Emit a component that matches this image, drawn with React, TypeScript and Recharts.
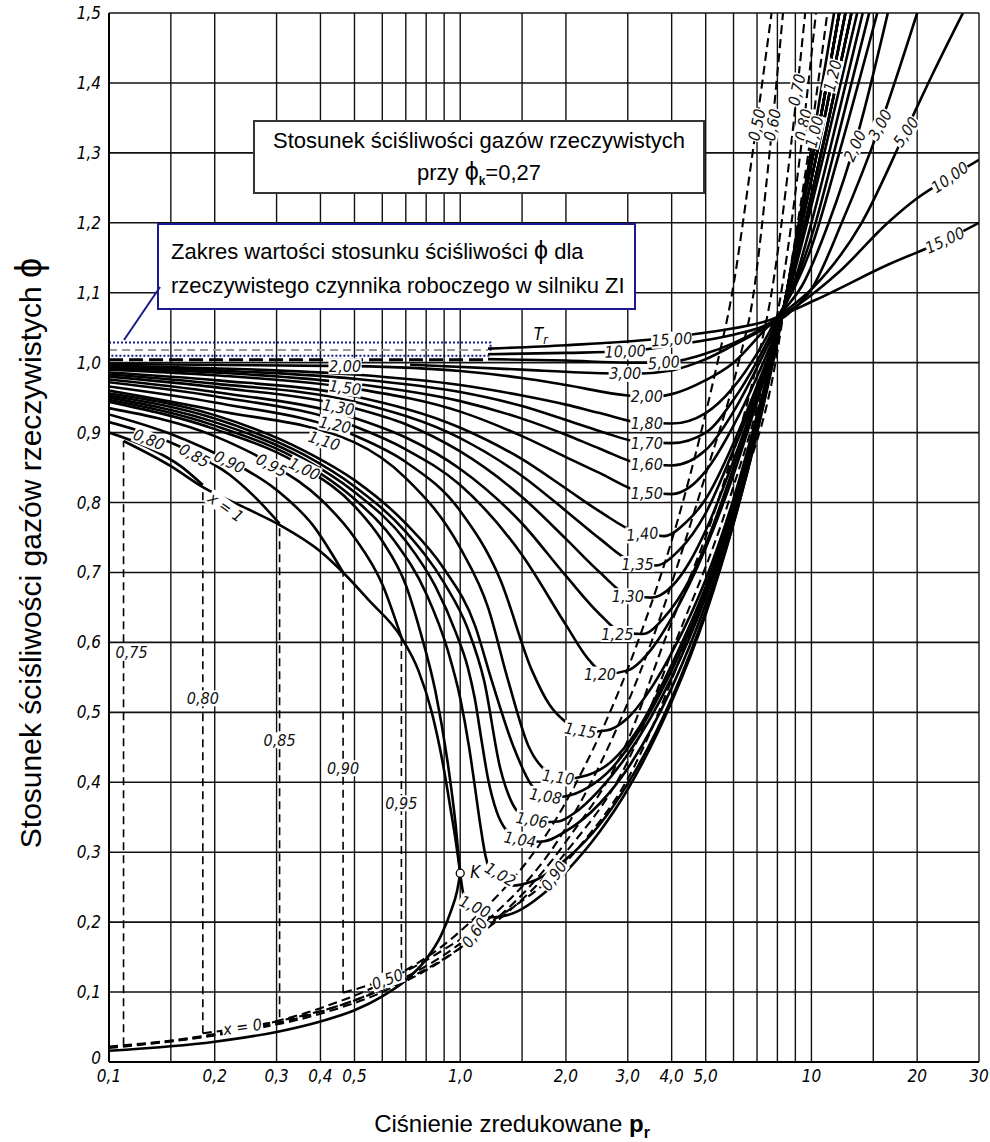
import React from 'react';
import { ComposedChart, Line, Scatter, XAxis, YAxis, ReferenceLine, ReferenceArea } from 'recharts';

// axis ticks and grid
const X_TICKS = [0.1, 0.2, 0.3, 0.4, 0.5, 1, 2, 3, 4, 5, 10, 20, 30];
const X_TICK_LABELS = ['0,1', '0,2', '0,3', '0,4', '0,5', '1,0', '2,0', '3,0', '4,0', '5,0', '10', '20', '30'];
const X_GRID = [0.1, 0.15, 0.2, 0.3, 0.4, 0.5, 0.6, 0.7, 0.8, 0.9, 1, 1.5, 2, 3, 4, 5, 6, 7, 8, 9, 10, 15, 20, 30];
const X_MINOR = [
  0.11, 0.12, 0.13, 0.14, 0.15, 0.16, 0.17, 0.18, 0.19, 0.22, 0.24, 0.26, 0.28, 0.32, 0.34, 0.36, 0.38,
  0.42, 0.44, 0.46, 0.48, 0.55, 0.6, 0.65, 0.7, 0.75, 0.8, 0.85, 0.9, 0.95, 1.2, 1.4, 1.6, 1.8, 2.5,
  3.5, 4.5, 5.5, 6, 6.5, 7, 7.5, 8, 8.5, 9, 9.5, 12, 14, 16, 18, 22, 24, 26, 28,
];
const Y_TICKS = [0, 0.1, 0.2, 0.3, 0.4, 0.5, 0.6, 0.7, 0.8, 0.9, 1.0, 1.1, 1.2, 1.3, 1.4, 1.5];
const Y_TICK_LABELS = ['0', '0,1', '0,2', '0,3', '0,4', '0,5', '0,6', '0,7', '0,8', '0,9', '1,0', '1,1', '1,2', '1,3', '1,4', '1,5'];
const Y_MINOR = [
  0.02, 0.04, 0.06, 0.08, 0.12, 0.14, 0.16, 0.18, 0.22, 0.24, 0.26, 0.28, 0.32, 0.34, 0.36, 0.38,
  0.42, 0.44, 0.46, 0.48, 0.52, 0.54, 0.56, 0.58, 0.62, 0.64, 0.66, 0.68, 0.72, 0.74, 0.76, 0.78,
  0.82, 0.84, 0.86, 0.88, 0.92, 0.94, 0.96, 0.98, 1.02, 1.04, 1.06, 1.08, 1.12, 1.14, 1.16, 1.18,
  1.22, 1.24, 1.26, 1.28, 1.32, 1.34, 1.36, 1.38, 1.42, 1.44, 1.46, 1.48,
];

// isotherms Tr, [pr, phi]
const TR080 = [[0.1, 0.9], [0.13, 0.878], [0.16, 0.852], [0.185, 0.825]];
const TR085 = [[0.1, 0.915], [0.14, 0.892], [0.175, 0.87], [0.22, 0.84], [0.26, 0.808], [0.306, 0.77]];
const TR090 = [[0.1, 0.926], [0.15, 0.898], [0.22, 0.86], [0.3, 0.818], [0.38, 0.768], [0.464, 0.7]];
const TR095 = [[0.1, 0.935], [0.2, 0.895], [0.29, 0.855], [0.4, 0.805], [0.5, 0.75], [0.6, 0.683], [0.68, 0.607]];
const TR100 = [
  [0.1, 0.944], [0.2, 0.905], [0.36, 0.85], [0.5, 0.795], [0.6, 0.745], [0.7, 0.682], [0.77, 0.615], [0.85, 0.53],
  [0.92, 0.43], [0.97, 0.34], [1.0, 0.27], [1.03, 0.232], [1.1, 0.214], [1.25, 0.207], [1.45, 0.215], [1.7, 0.238],
  [2, 0.272], [2.5, 0.33], [3, 0.39], [4, 0.515], [5, 0.64], [6, 0.77], [7, 0.9], [8, 1.03], [8.5, 1.1],
  [9.5, 1.24], [10.5, 1.37], [11.6, 1.5],
];
const TR102 = [
  [0.1, 0.947], [0.2, 0.91], [0.36, 0.856], [0.5, 0.805], [0.65, 0.745], [0.8, 0.67], [0.92, 0.59], [1.0, 0.52],
  [1.06, 0.45], [1.1, 0.395], [1.14, 0.34], [1.18, 0.295], [1.25, 0.265], [1.4, 0.252], [1.6, 0.258], [2, 0.29],
  [2.5, 0.34], [3, 0.398], [4, 0.52], [5, 0.645], [6, 0.77], [7, 0.9], [8, 1.035], [8.5, 1.1], [9.5, 1.23],
  [10.8, 1.37], [12.0, 1.5],
];
const TR104 = [
  [0.1, 0.95], [0.2, 0.915], [0.36, 0.862], [0.5, 0.815], [0.7, 0.745], [0.85, 0.68], [0.97, 0.615], [1.05, 0.565],
  [1.1, 0.52], [1.15, 0.46], [1.2, 0.405], [1.27, 0.358], [1.35, 0.332], [1.5, 0.317], [1.7, 0.315], [2, 0.33],
  [2.5, 0.37], [3, 0.42], [4, 0.535], [5, 0.655], [6, 0.775], [7, 0.905], [8, 1.035], [8.5, 1.1], [9.5, 1.23],
  [10.8, 1.37], [12.0, 1.5],
];
const TR106 = [
  [0.1, 0.953], [0.2, 0.92], [0.36, 0.868], [0.5, 0.823], [0.7, 0.758], [0.9, 0.685], [1.05, 0.62], [1.17, 0.545],
  [1.3, 0.42], [1.4, 0.372], [1.5, 0.352], [1.7, 0.343], [1.9, 0.344], [2.1, 0.355], [2.5, 0.39], [3, 0.44],
  [4, 0.55], [5, 0.665], [6, 0.782], [7, 0.91], [8, 1.035], [8.5, 1.1], [9.5, 1.23], [10.8, 1.37], [12.0, 1.5],
];
const TR108 = [
  [0.1, 0.956], [0.2, 0.925], [0.36, 0.874], [0.5, 0.832], [0.7, 0.77], [0.9, 0.705], [1.1, 0.625], [1.23, 0.545],
  [1.42, 0.45], [1.6, 0.395], [1.8, 0.378], [2.0, 0.38], [2.3, 0.392], [2.7, 0.42], [3.2, 0.47], [4, 0.56],
  [5, 0.672], [6, 0.79], [7, 0.915], [8, 1.035], [8.5, 1.1], [9.5, 1.23], [10.8, 1.37], [12.0, 1.5],
];
const TR110 = [
  [0.1, 0.96], [0.2, 0.932], [0.5, 0.886], [0.7, 0.835], [1.0, 0.735], [1.2, 0.65], [1.37, 0.545], [1.57, 0.45],
  [1.75, 0.417], [2.0, 0.405], [2.3, 0.41], [2.7, 0.43], [3.2, 0.475], [4, 0.568], [5, 0.68], [6, 0.797],
  [7, 0.92], [8, 1.035], [8.5, 1.1], [9.5, 1.23], [10.8, 1.37], [12.0, 1.5],
];
const TR115 = [
  [0.1, 0.966], [0.2, 0.943], [0.5, 0.896], [0.7, 0.858], [1.0, 0.788], [1.3, 0.69], [1.6, 0.56], [1.8, 0.51],
  [2.0, 0.486], [2.3, 0.472], [2.6, 0.474], [3.0, 0.492], [3.5, 0.535], [4, 0.585], [5, 0.69], [6, 0.805],
  [7, 0.925], [8, 1.04], [8.5, 1.095], [9.5, 1.21], [11, 1.36], [12.5, 1.5],
];
const TR120 = [
  [0.1, 0.972], [0.2, 0.952], [0.5, 0.909], [0.7, 0.876], [1.0, 0.825], [1.5, 0.725], [2.0, 0.625], [2.3, 0.578],
  [2.6, 0.555], [3.0, 0.56], [3.5, 0.59], [4, 0.635], [5, 0.735], [6, 0.84], [7, 0.945], [8, 1.04], [8.5, 1.095],
  [9.5, 1.21], [11, 1.36], [12.5, 1.5],
];
const TR125 = [
  [0.1, 0.976], [0.2, 0.958], [0.5, 0.921], [0.7, 0.893], [1.0, 0.848], [1.5, 0.77], [2.0, 0.695], [2.5, 0.64],
  [2.9, 0.614], [3.3, 0.612], [3.8, 0.635], [4.5, 0.69], [5, 0.74], [6, 0.85], [7, 0.95], [8, 1.04], [8.5, 1.095],
  [9.5, 1.21], [11, 1.36], [12.5, 1.5],
];
const TR130 = [
  [0.1, 0.98], [0.2, 0.965], [0.5, 0.935], [0.7, 0.912], [1.0, 0.873], [1.5, 0.808], [2.0, 0.748], [2.5, 0.7],
  [3.0, 0.668], [3.5, 0.664], [4, 0.68], [4.5, 0.715], [5, 0.76], [6, 0.86], [7, 0.955], [8, 1.045], [8.5, 1.09],
  [9.5, 1.19], [11, 1.33], [13, 1.5],
];
const TR135 = [
  [0.1, 0.983], [0.2, 0.97], [0.5, 0.944], [1.0, 0.892], [1.5, 0.838], [2.0, 0.788], [2.5, 0.748], [3.1, 0.715],
  [3.6, 0.71], [4.2, 0.732], [5, 0.785], [6, 0.875], [7, 0.96], [8, 1.045], [8.5, 1.09], [9.5, 1.19], [11, 1.33], [13, 1.5],
];
const TR140 = [
  [0.1, 0.986], [0.2, 0.975], [0.5, 0.952], [1.0, 0.907], [1.5, 0.862], [2.0, 0.82], [2.5, 0.787], [3.2, 0.757],
  [3.8, 0.752], [4.4, 0.772], [5, 0.805], [6, 0.885], [7, 0.967], [8, 1.045], [8.5, 1.09], [9.5, 1.19], [11, 1.33], [13, 1.5],
];
const TR150 = [
  [0.1, 0.99], [0.2, 0.982], [0.5, 0.963], [1.0, 0.93], [1.5, 0.895], [2, 0.865], [2.5, 0.842], [3.3, 0.815],
  [4, 0.812], [4.5, 0.822], [5, 0.845], [6, 0.91], [7, 0.98], [8, 1.05], [8.5, 1.09], [9.5, 1.18], [11, 1.31], [13.5, 1.5],
];
const TR160 = [
  [0.1, 0.992], [0.2, 0.986], [0.5, 0.97], [1, 0.945], [1.5, 0.92], [2, 0.897], [2.5, 0.877], [3.3, 0.855],
  [4, 0.853], [5, 0.875], [6, 0.93], [7, 0.993], [8, 1.055], [9, 1.12], [10, 1.2], [12, 1.36], [14, 1.5],
];
const TR170 = [
  [0.1, 0.994], [0.2, 0.989], [0.5, 0.977], [1, 0.958], [1.5, 0.938], [2, 0.918], [2.5, 0.902], [3.3, 0.886],
  [4, 0.885], [5, 0.9], [6, 0.947], [7, 1.002], [8, 1.06], [9, 1.115], [10, 1.18], [12, 1.33], [14.6, 1.5],
];
const TR180 = [
  [0.1, 0.996], [0.2, 0.992], [0.5, 0.983], [1, 0.968], [1.5, 0.953], [2, 0.94], [2.5, 0.928], [3.3, 0.914],
  [4, 0.913], [5, 0.928], [6, 0.965], [7, 1.013], [8, 1.065], [9, 1.11], [10, 1.165], [12, 1.3], [15.4, 1.5],
];
const TR200 = [
  [0.1, 0.998], [0.5, 0.995], [1, 0.988], [1.5, 0.978], [2, 0.968], [3, 0.953], [3.5, 0.951], [4, 0.955],
  [5, 0.975], [6, 1.0], [7.3, 1.045], [8.5, 1.08], [9.4, 1.11], [11.2, 1.2], [13.6, 1.33], [16.5, 1.5],
];
const TR300 = [
  [0.72, 0.997], [1.5, 0.99], [2.2, 0.986], [3.1, 0.984], [4, 0.989], [5, 1.005], [6, 1.025], [7.3, 1.048],
  [8.6, 1.07], [10, 1.105], [12.2, 1.2], [15.7, 1.34], [20, 1.5],
];
const TR500 = [
  [1.2, 1.005], [2, 1.003], [3, 1.0], [3.8, 1.0], [5, 1.013], [6, 1.028], [7.3, 1.05], [8.5, 1.075], [10, 1.105],
  [13.9, 1.2], [18.4, 1.327], [22, 1.41], [27, 1.5],
];
const TR1000 = [
  [1.2, 1.012], [2, 1.014], [2.9, 1.016], [4.3, 1.027], [6, 1.04], [7.3, 1.052], [9, 1.08], [12, 1.13], [16.5, 1.2],
  [20, 1.235], [24.8, 1.265], [30, 1.29],
];
const TR1500 = [
  [1.2, 1.02], [2, 1.025], [3.3, 1.032], [4.5, 1.04], [5.5, 1.046], [7.3, 1.058], [10.3, 1.09], [16.5, 1.14],
  [24, 1.175], [30, 1.2],
];
const HIGH_TR_START = [[0.1, 1.004], [0.5, 1.004], [1.2, 1.004]];
const FADED_IN_BOX = [[0.1, 1.018], [1.2, 1.018]];

// saturation lines: x = 1 (vapour) and x = 0 (liquid)
const SAT_VAP = [
  [0.11, 0.888], [0.15, 0.852], [0.185, 0.822], [0.25, 0.79], [0.306, 0.768], [0.4, 0.73], [0.464, 0.7],
  [0.55, 0.66], [0.68, 0.607], [0.76, 0.56], [0.83, 0.5], [0.89, 0.43], [0.94, 0.36], [0.975, 0.31], [1.0, 0.27],
];
const SAT_LIQ = [
  [0.1, 0.016], [0.2, 0.029], [0.3, 0.043], [0.4, 0.058], [0.5, 0.074], [0.6, 0.094], [0.7, 0.117], [0.8, 0.147],
  [0.88, 0.18], [0.94, 0.215], [0.98, 0.245], [1.0, 0.27],
];

// liquid isotherms (dashed)
const L050 = [
  [0.1, 0.022], [0.2, 0.04], [0.4, 0.077], [0.6, 0.113], [1, 0.187], [2, 0.372], [3.2, 0.6], [4.3, 0.8],
  [5.4, 1.0], [5.9, 1.09], [6.8, 1.3], [7.7, 1.5],
];
const L060 = [
  [0.1, 0.021], [0.2, 0.039], [0.4, 0.072], [0.6, 0.105], [1.12, 0.19], [2, 0.335], [3.5, 0.6], [5, 0.84],
  [6.2, 1.0], [6.8, 1.09], [7.6, 1.3], [8.3, 1.5],
];
const L070 = [
  [0.1, 0.02], [0.2, 0.038], [0.4, 0.069], [0.6, 0.1], [1, 0.163], [2, 0.315], [3, 0.46], [3.8, 0.6], [5.4, 0.8],
  [7.0, 1.0], [7.7, 1.1], [8.7, 1.3], [9.6, 1.5],
];
const L080 = [
  [0.185, 0.041], [0.3, 0.058], [0.5, 0.088], [1, 0.163], [2, 0.3], [3, 0.43], [4.1, 0.6], [5.8, 0.8], [7.5, 1.0],
  [8.2, 1.1], [9.3, 1.3], [10.3, 1.5],
];
const L090 = [
  [0.464, 0.099], [0.7, 0.13], [1, 0.175], [1.4, 0.22], [1.8, 0.262], [2.2, 0.31], [3, 0.405], [4.4, 0.6],
  [6.1, 0.8], [7.9, 1.0], [8.5, 1.1], [9.8, 1.3], [11.1, 1.5],
];

// two-phase verticals
const SAT_TR = ['0,75', '0,80', '0,85', '0,90', '0,95'];
const SAT_PR = [0.11, 0.185, 0.306, 0.464, 0.68];
const SAT_Z_LIQ = [0.024, 0.041, 0.064, 0.099, 0.13];
const SAT_Z_VAP = [0.888, 0.822, 0.768, 0.7, 0.607];
const SAT_LABEL_Z = [0.585, 0.52, 0.46, 0.42, 0.37];
const SAT_LABEL_PR = [0.116, 0.185, 0.306, 0.464, 0.68];

const CRIT_POINT = [{ pr: 1.0, z: 0.27 }];

const CURVE_LABELS = [
  { text: '0,80', pr: 0.13, z: 0.89, rot: 22 },
  { text: '0,85', pr: 0.175, z: 0.867, rot: 30 },
  { text: '0,90', pr: 0.22, z: 0.858, rot: 26 },
  { text: '0,95', pr: 0.29, z: 0.853, rot: 28 },
  { text: '1,00', pr: 0.36, z: 0.848, rot: 26 },
  { text: '1,10', pr: 0.41, z: 0.888, rot: 18 },
  { text: '1,20', pr: 0.44, z: 0.911, rot: 12 },
  { text: '1,30', pr: 0.45, z: 0.936, rot: 10 },
  { text: '1,50', pr: 0.47, z: 0.964, rot: 7 },
  { text: '2,00', pr: 0.47, z: 0.995, rot: 0 },
  { text: 'x = 1', pr: 0.215, z: 0.793, rot: 35 },
  { text: 'x = 0', pr: 0.24, z: 0.05, rot: -8 },
  { text: '15,00', pr: 4.0, z: 1.033, rot: -4 },
  { text: '10,00', pr: 2.95, z: 1.016, rot: -2 },
  { text: '5,00', pr: 3.8, z: 1.0, rot: -4 },
  { text: '3,00', pr: 2.95, z: 0.984, rot: 0 },
  { text: '2,00', pr: 3.4, z: 0.952, rot: 0 },
  { text: '1,80', pr: 3.4, z: 0.913, rot: 0 },
  { text: '1,70', pr: 3.4, z: 0.884, rot: 0 },
  { text: '1,60', pr: 3.4, z: 0.854, rot: 0 },
  { text: '1,50', pr: 3.4, z: 0.813, rot: 0 },
  { text: '1,40', pr: 3.3, z: 0.755, rot: -5 },
  { text: '1,35', pr: 3.2, z: 0.712, rot: 0 },
  { text: '1,30', pr: 3.0, z: 0.666, rot: 0 },
  { text: '1,25', pr: 2.8, z: 0.612, rot: 0 },
  { text: '1,20', pr: 2.5, z: 0.554, rot: 0 },
  { text: '1,15', pr: 2.2, z: 0.474, rot: 10 },
  { text: '1,10', pr: 1.9, z: 0.407, rot: 8 },
  { text: '1,08', pr: 1.75, z: 0.38, rot: 10 },
  { text: '1,06', pr: 1.6, z: 0.346, rot: 10 },
  { text: '1,04', pr: 1.48, z: 0.318, rot: 10 },
  { text: '1,02', pr: 1.3, z: 0.268, rot: 30 },
  { text: '1,00', pr: 1.1, z: 0.222, rot: 25 },
  { text: '0,60', pr: 1.1, z: 0.185, rot: -55 },
  { text: '0,90', pr: 1.85, z: 0.266, rot: -55 },
  { text: '0,50', pr: 0.62, z: 0.118, rot: -20 },
  { text: '0,50', pr: 7.0, z: 1.34, rot: -78 },
  { text: '0,60', pr: 7.75, z: 1.34, rot: -78 },
  { text: '0,70', pr: 9.1, z: 1.39, rot: -78 },
  { text: '0,80', pr: 9.5, z: 1.34, rot: -78 },
  { text: '1,00', pr: 10.2, z: 1.33, rot: -76 },
  { text: '1,20', pr: 11.5, z: 1.41, rot: -76 },
  { text: '2,00', pr: 13.3, z: 1.31, rot: -65 },
  { text: '3,00', pr: 15.7, z: 1.34, rot: -62 },
  { text: '5,00', pr: 18.6, z: 1.33, rot: -55 },
  { text: '10,00', pr: 24.8, z: 1.265, rot: -35 },
  { text: '15,00', pr: 24, z: 1.175, rot: -25 },
];

const SOLID_CURVES = [
  TR080, TR085, TR090, TR095, TR100, TR102, TR104, TR106, TR108, TR110, TR115, TR120, TR125, TR130,
  TR135, TR140, TR150, TR160, TR170, TR180, TR200, TR300, TR500, TR1000, TR1500, SAT_VAP, SAT_LIQ,
];
const DASHED_CURVES = [L050, L060, L070, L080, L090];

const NARROW = "'DejaVu Sans Condensed', 'Liberation Sans Narrow', 'Arial Narrow', 'DejaVu Sans', sans-serif";
const SANS = "'Liberation Sans', Arial, Helvetica, sans-serif";

const toPts = (arr: number[][]) => arr.map(([pr, z]) => ({ pr, z }));

const CurveLabel = (props: any) => {
  const { cx, cy, payload } = props;
  if (cx == null || cy == null) return null;
  const w = payload.text.length * 7.8 + 2;
  return (
    <g transform={`translate(${cx},${cy}) rotate(${payload.rot || 0})`}>
      <rect x={-w / 2} y={-8} width={w} height={16} fill="#fff" />
      <text x={0} y={5.5} textAnchor="middle" fontSize={16} fontStyle="italic" fontFamily={NARROW} fill="#111">
        {payload.text}
      </text>
    </g>
  );
};

const CritMark = (props: any) => {
  const { cx, cy } = props;
  return (
    <g>
      <circle cx={cx} cy={cy} r={4} fill="#fff" stroke="#000" strokeWidth={1.3} />
      <text x={cx + 10} y={cy + 5} fontSize={17} fontStyle="italic" fontFamily={NARROW}>K</text>
    </g>
  );
};

const TrMark = (props: any) => {
  const { cx, cy } = props;
  return (
    <text x={cx} y={cy} fontSize={17} fontStyle="italic" fontFamily={NARROW}>
      T<tspan fontSize={12} dy={4}>r</tspan>
    </text>
  );
};

const YTick = (props: any) => {
  const { x, y, payload } = props;
  const i = Y_TICKS.findIndex((t) => Math.abs(t - payload.value) < 1e-6);
  const dy = i === 0 ? -4 : 0;
  return (
    <text x={x} y={y + dy} dy={6} textAnchor="end" fontSize={17} fontStyle="italic" fontFamily={NARROW} fill="#000">
      {Y_TICK_LABELS[i]}
    </text>
  );
};

const App: React.FC = () => {
  const satLines = SAT_PR.map((pr, i) => [
    { pr, z: SAT_Z_LIQ[i] },
    { pr, z: SAT_Z_VAP[i] },
  ]);
  const satLabels = SAT_TR.map((text, i) => ({ text, pr: SAT_LABEL_PR[i], z: SAT_LABEL_Z[i], rot: 0 }));

  return (
    <div style={{ position: 'absolute', left: 0, top: 0, width: 990, height: 1142, background: '#fff', overflow: 'hidden' }}>
      <ComposedChart width={990} height={1142} margin={{ top: 13, right: 11, bottom: 50, left: 69 }}>
        <XAxis
          dataKey="pr"
          type="number"
          scale="log"
          domain={[0.1, 30]}
          allowDataOverflow
          ticks={X_TICKS}
          tickFormatter={(v: number) => X_TICK_LABELS[X_TICKS.indexOf(v)]}
          tick={{ fill: '#000', fontSize: 17, fontStyle: 'italic', fontFamily: NARROW }}
          tickLine={false}
          axisLine={{ stroke: '#000', strokeWidth: 2 }}
          height={30}
          interval={0}
        />
        <XAxis
          xAxisId="minor"
          dataKey="pr"
          type="number"
          scale="log"
          domain={[0.1, 30]}
          allowDataOverflow
          ticks={X_MINOR}
          tick={false}
          tickSize={6}
          axisLine={false}
          tickLine={{ stroke: '#000', strokeWidth: 1.2 }}
          mirror
          height={10}
          interval={0}
        />
        <YAxis
          type="number"
          domain={[0, 1.5]}
          allowDataOverflow
          ticks={Y_TICKS}
          tick={<YTick />}
          tickLine={false}
          axisLine={{ stroke: '#000', strokeWidth: 2 }}
          width={40}
          interval={0}
        />
        <YAxis
          yAxisId="minor"
          type="number"
          domain={[0, 1.5]}
          allowDataOverflow
          ticks={Y_MINOR}
          tick={false}
          tickSize={7}
          axisLine={false}
          tickLine={{ stroke: '#000', strokeWidth: 1.2 }}
          mirror
          width={10}
          interval={0}
        />

        {X_GRID.map((v) => (
          <ReferenceLine key={`gx${v}`} x={v} stroke="#111" strokeWidth={1.4} />
        ))}
        {Y_TICKS.map((v) => (
          <ReferenceLine key={`gy${v}`} y={v} stroke="#111" strokeWidth={1.6} />
        ))}

        <ReferenceArea
          x1={0.1}
          x2={1.22}
          y1={1.01}
          y2={1.029}
          fill="none"
          stroke="#1a1a8c"
          strokeWidth={2}
          strokeDasharray="2 2"
        />

        {satLines.map((pts, i) => (
          <Line
            key={`sat${i}`}
            data={pts}
            dataKey="z"
            type="linear"
            stroke="#000"
            strokeWidth={1.6}
            strokeDasharray="8 5"
            dot={false}
            activeDot={false}
            isAnimationActive={false}
          />
        ))}
        {DASHED_CURVES.map((c, i) => (
          <Line
            key={`liq${i}`}
            data={toPts(c)}
            dataKey="z"
            type="monotone"
            stroke="#000"
            strokeWidth={2.1}
            strokeDasharray="9 5"
            dot={false}
            activeDot={false}
            isAnimationActive={false}
          />
        ))}
        <Line
          data={toPts(FADED_IN_BOX)}
          dataKey="z"
          type="linear"
          stroke="#9a9a9a"
          strokeWidth={2}
          strokeDasharray="8 5"
          dot={false}
          activeDot={false}
          isAnimationActive={false}
        />
        <Line
          data={toPts(HIGH_TR_START)}
          dataKey="z"
          type="linear"
          stroke="#000"
          strokeWidth={3}
          strokeDasharray="14 6"
          dot={false}
          activeDot={false}
          isAnimationActive={false}
        />
        {SOLID_CURVES.map((c, i) => (
          <Line
            key={`iso${i}`}
            data={toPts(c)}
            dataKey="z"
            type="monotone"
            stroke="#000"
            strokeWidth={2.6}
            dot={false}
            activeDot={false}
            isAnimationActive={false}
          />
        ))}

        <Scatter data={CURVE_LABELS} dataKey="z" shape={CurveLabel} isAnimationActive={false} />
        <Scatter data={satLabels} dataKey="z" shape={CurveLabel} isAnimationActive={false} />
        <Scatter data={CRIT_POINT} dataKey="z" shape={CritMark} isAnimationActive={false} />
        <Scatter data={[{ pr: 1.62, z: 1.032 }]} dataKey="z" shape={TrMark} isAnimationActive={false} />
      </ComposedChart>

      {/* annotation boxes */}
      <div
        style={{
          position: 'absolute', left: 253, top: 120, width: 452, height: 74, boxSizing: 'border-box',
          border: '2.5px solid #333', background: '#fff', fontFamily: SANS, fontSize: 22, color: '#000',
          textAlign: 'center', lineHeight: '31px', paddingTop: 3,
        }}
      >
        <div>Stosunek ściśliwości gazów rzeczywistych</div>
        <div>
          przy <span style={{ fontSize: 25 }}>ϕ</span>
          <sub style={{ fontSize: 12, fontWeight: 'bold' }}>k</sub>=0,27
        </div>
      </div>
      <div
        style={{
          position: 'absolute', left: 157, top: 223, width: 479, height: 87, boxSizing: 'border-box',
          border: '2px solid #1a1a8c', background: '#fff', fontFamily: SANS, fontSize: 22, color: '#000',
          lineHeight: '34px', paddingLeft: 12, paddingTop: 8, whiteSpace: 'nowrap',
        }}
      >
        <div>
          Zakres wartości stosunku ściśliwości <span style={{ fontSize: 25 }}>ϕ</span> dla
        </div>
        <div>rzeczywistego czynnika roboczego w silniku ZI</div>
      </div>
      <svg style={{ position: 'absolute', left: 0, top: 0 }} width={990} height={1142} pointerEvents="none">
        <line x1={160} y1={287} x2={124} y2={340} stroke="#1a1a8c" strokeWidth={2} />
      </svg>

      {/* axis titles */}
      <div
        style={{
          position: 'absolute', left: 512, top: 1110, transform: 'translateX(-50%)', whiteSpace: 'nowrap',
          fontFamily: SANS, fontSize: 24, color: '#000',
        }}
      >
        Ciśnienie zredukowane <b>p</b>
        <sub style={{ fontSize: 16, fontWeight: 'bold' }}>r</sub>
      </div>
      <div
        style={{
          position: 'absolute', left: 29, top: 553, transform: 'translate(-50%, -50%) rotate(-90deg)',
          whiteSpace: 'nowrap', fontFamily: SANS, fontSize: 30, color: '#000',
        }}
      >
        Stosunek ściśliwości gazów rzeczywistych <span style={{ fontSize: 36 }}>ϕ</span>
      </div>
    </div>
  );
};

export default App;
